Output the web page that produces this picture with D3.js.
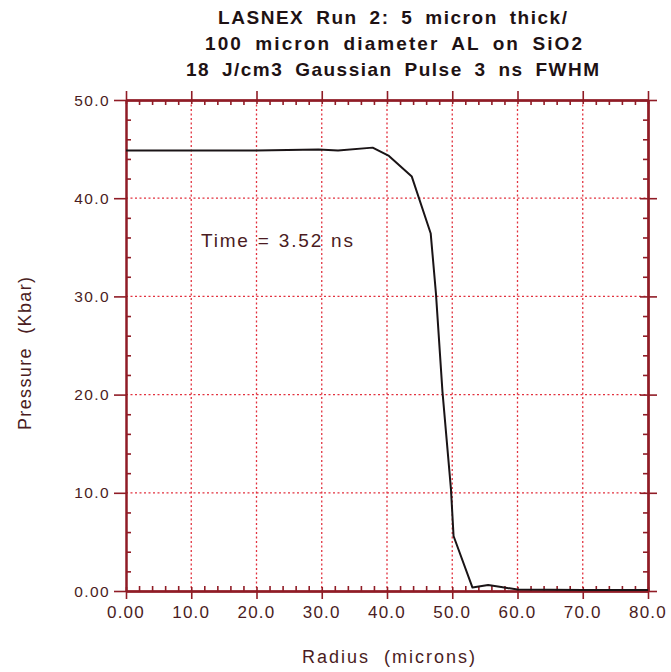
<!DOCTYPE html>
<html>
<head>
<meta charset="utf-8">
<script src="https://cdn.jsdelivr.net/npm/d3@7"></script>
<style>
  html, body { margin: 0; padding: 0; background: #fff; }
  svg { display: block; }
</style>
</head>
<body>
<svg id="chart" width="671" height="672"></svg>
<script>
// ---- data ----
const titleLines = [
  "LASNEX Run 2: 5 micron thick/",
  "100 micron diameter AL on SiO2",
  "18 J/cm3 Gaussian Pulse 3 ns FWHM"
];
const radius   = [0, 10, 20, 29.5, 32.5, 37.8, 40.3, 43.8, 46.7, 47.5, 48.5, 49.8, 50.2, 53.1, 55.5, 57.5, 60, 70, 80];
const pressure = [44.85, 44.85, 44.85, 44.95, 44.85, 45.15, 44.3, 42.2, 36.4, 30.3, 20.3, 10.4, 5.6, 0.35, 0.6, 0.4, 0.15, 0.1, 0.1];
const xTickValues = [0, 10, 20, 30, 40, 50, 60, 70, 80];
const xTickLabels = ["0.00", "10.0", "20.0", "30.0", "40.0", "50.0", "60.0", "70.0", "80.0"];
const yTickValues = [0, 10, 20, 30, 40, 50];
const yTickLabels = ["0.00", "10.0", "20.0", "30.0", "40.0", "50.0"];
const annotation = "Time = 3.52 ns";
const xTitle = "Radius (microns)";
const yTitle = "Pressure (Kbar)";

// ---- layout ----
const svg = d3.select("#chart");
const x = d3.scaleLinear().domain([0, 80]).range([126, 648]);
const y = d3.scaleLinear().domain([0, 50]).range([591, 100]);
const axisColor = "#901c26";
const gridColor = "#e2323f";
const textColor = "#4a1c22";
const font = "'Liberation Sans', Arial, Helvetica, sans-serif";

// spread letters (with a given extra word gap) so a text spans the target width
function fitText(sel, target, wordExtra) {
  sel.each(function() {
    const t = d3.select(this);
    t.attr("word-spacing", wordExtra);
    const natural = this.getComputedTextLength();
    const chars = this.textContent.length - 1;
    t.attr("letter-spacing", (target - natural) / chars);
  });
}

// grid (dotted) at interior majors
const g = svg.append("g");
g.selectAll("line.gx").data(xTickValues.slice(1, -1)).join("line")
  .attr("x1", d => x(d)).attr("x2", d => x(d))
  .attr("y1", y(50)).attr("y2", y(0))
  .attr("stroke", gridColor).attr("stroke-width", 1.3)
  .attr("stroke-dasharray", "2,2.5");
g.selectAll("line.gy").data(yTickValues.slice(1, -1)).join("line")
  .attr("y1", d => y(d)).attr("y2", d => y(d))
  .attr("x1", x(0)).attr("x2", x(80))
  .attr("stroke", gridColor).attr("stroke-width", 1.3)
  .attr("stroke-dasharray", "2,2.5");

const minorX = d3.range(0, 81, 2).filter(v => v % 10 !== 0);
const minorY = d3.range(0, 51, 2).filter(v => v % 10 !== 0);

function styleAxis(sel) {
  sel.selectAll("path").attr("stroke", axisColor).attr("stroke-width", 2);
  sel.selectAll("line").attr("stroke", axisColor).attr("stroke-width", 1.6);
  sel.selectAll("text").remove();
}
function addAxis(transform, gen, values, size) {
  svg.append("g").attr("transform", transform)
    .call(gen.tickValues(values).tickSize(size).tickSizeOuter(0).tickFormat(""))
    .call(styleAxis);
}
// bottom
addAxis(`translate(0,${y(0)})`, d3.axisBottom(x), xTickValues, 8);
addAxis(`translate(0,${y(0)})`, d3.axisTop(x), minorX, 5);
addAxis(`translate(0,${y(0)})`, d3.axisTop(x), xTickValues, 4);
// top
addAxis(`translate(0,${y(50)})`, d3.axisTop(x), xTickValues, 9);
addAxis(`translate(0,${y(50)})`, d3.axisBottom(x), minorX, 5);
addAxis(`translate(0,${y(50)})`, d3.axisBottom(x), xTickValues, 4);
// left
addAxis(`translate(${x(0)},0)`, d3.axisLeft(y), yTickValues, 12);
addAxis(`translate(${x(0)},0)`, d3.axisRight(y), minorY, 5);
// right
addAxis(`translate(${x(80)},0)`, d3.axisRight(y), yTickValues, 9);
addAxis(`translate(${x(80)},0)`, d3.axisLeft(y), yTickValues, 8);
addAxis(`translate(${x(80)},0)`, d3.axisLeft(y), minorY, 5);

// tick labels
svg.append("g").selectAll("text").data(xTickValues).join("text")
  .attr("x", d => x(d)).attr("y", 618)
  .attr("text-anchor", "middle")
  .attr("font-family", font).attr("font-size", 17)
  .attr("letter-spacing", 1.2)
  .attr("fill", textColor)
  .text((d, i) => xTickLabels[i]);
svg.append("g").selectAll("text").data(yTickValues).join("text")
  .attr("x", 110).attr("y", d => y(d) + 5.5)
  .attr("text-anchor", "end")
  .attr("font-family", font).attr("font-size", 15.5)
  .attr("letter-spacing", 1.4)
  .attr("fill", textColor)
  .text((d, i) => yTickLabels[i]);

// title
const titleSpans = [[218, 567, 24], [205, 582, 50], [186, 599, 76]];
svg.append("g").selectAll("text").data(titleLines).join("text")
  .attr("x", (d, i) => titleSpans[i][0])
  .attr("y", (d, i) => titleSpans[i][2])
  .attr("font-family", font).attr("font-size", 19).attr("font-weight", "bold")
  .attr("fill", "#1e1214")
  .text(d => d)
  .each(function(d, i) { fitText(d3.select(this), titleSpans[i][1] - titleSpans[i][0], 5); });

// annotation
svg.append("text")
  .attr("x", 201).attr("y", 247)
  .attr("font-family", font).attr("font-size", 19)
  .attr("fill", textColor)
  .text(annotation)
  .call(fitText, 152, 1);

// axis titles
svg.append("text")
  .attr("x", 302).attr("y", 663)
  .attr("font-family", font).attr("font-size", 18)
  .attr("fill", textColor)
  .text(xTitle)
  .call(fitText, 173, 7);
svg.append("text")
  .attr("transform", "translate(31,430) rotate(-90)")
  .attr("font-family", font).attr("font-size", 18)
  .attr("fill", textColor)
  .text(yTitle)
  .call(fitText, 153, 7);

// curve
const pts = radius.map((r, i) => [r, pressure[i]]);
svg.append("path")
  .datum(pts)
  .attr("fill", "none")
  .attr("stroke", "#1a1416")
  .attr("stroke-width", 2)
  .attr("stroke-linejoin", "round")
  .attr("d", d3.line().x(d => x(d[0])).y(d => y(d[1])));
</script>
</body>
</html>
